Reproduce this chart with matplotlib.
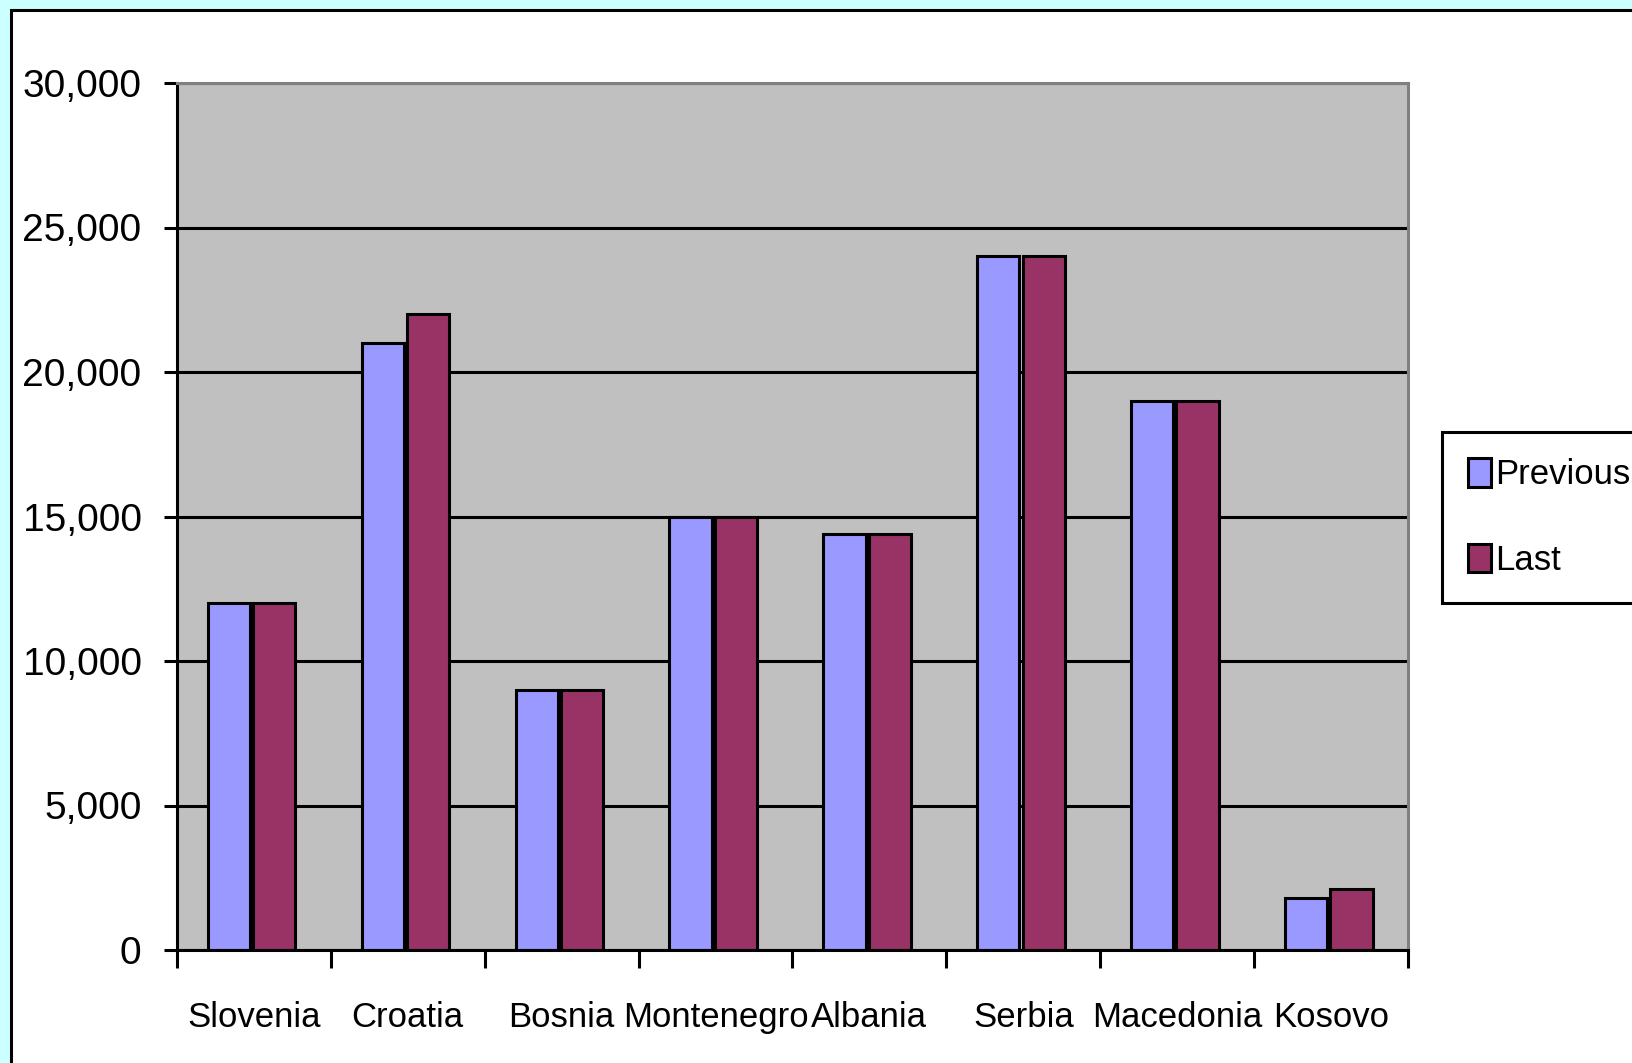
import matplotlib
matplotlib.use("Agg")
import matplotlib.pyplot as plt
import numpy as np
from matplotlib.patches import Rectangle
from matplotlib.ticker import FuncFormatter

countries = ["Slovenia", "Croatia", "Bosnia", "Montenegro", "Albania",
             "Serbia", "Macedonia", "Kosovo"]
previous = [12000, 21000, 9000, 15000, 14400, 24000, 19000, 1800]
last = [12000, 22000, 9000, 15000, 14400, 24000, 19000, 2100]
yticks = [0, 5000, 10000, 15000, 20000, 25000, 30000]

plt.rcParams['font.family'] = ['Liberation Sans', 'DejaVu Sans']
LW = 2.2

fig = plt.figure(figsize=(16.33, 10.63), dpi=100, facecolor='#CCFFFF')

# white chart area with black border (runs off right and bottom)
W, H = 1633, 1063
fig.patches.append(Rectangle((10.5 / W, -0.1), 1.2, 1 - 10.5 / H + 0.1,
                             transform=fig.transFigure, facecolor='white',
                             edgecolor='black', linewidth=LW, zorder=-5))

ax = fig.add_axes([177 / W, 1 - 950 / H, (1408 - 177) / W, (950 - 83) / H])
ax.set_facecolor('#C0C0C0')

x = np.arange(len(countries)) - 0.015
bw = 0.275
ax.bar(x - bw / 2 - 0.01, previous, bw, color='#9999FF', edgecolor='black',
       linewidth=LW, label='Previous')
ax.bar(x + bw / 2 + 0.01, last, bw, color='#993366', edgecolor='black',
       linewidth=LW, label='Last')

ax.set_xlim(-0.5, len(countries) - 0.5)
ax.set_ylim(0, 30000)
ax.set_axisbelow(True)
ax.yaxis.grid(True, color='black', linewidth=LW)

ax.set_yticks(yticks)
ax.yaxis.set_major_formatter(FuncFormatter(lambda v, p: f"{int(v):,}"))
ax.tick_params(axis='y', direction='out', length=9.5, width=LW, pad=16,
               labelsize=28)

ax.set_xticks(np.arange(-0.5, len(countries), 1))
ax.set_xticklabels([])
ax.set_xticks(np.arange(len(countries)), minor=True)
ax.set_xticklabels(countries, minor=True)
ax.tick_params(axis='x', which='major', direction='out', length=13, width=LW)
ax.tick_params(axis='x', which='minor', length=0, pad=37, labelsize=25)

for s in ['left', 'bottom']:
    ax.spines[s].set_linewidth(LW)
    ax.spines[s].set_color('black')
for s in ['top', 'right']:
    ax.spines[s].set_linewidth(LW)
    ax.spines[s].set_color('#808080')

leg = fig.legend(loc='upper left', bbox_to_anchor=(1442 / W, 1 - 432 / H),
                 fontsize=25, fancybox=False, framealpha=1, edgecolor='black',
                 handlelength=0.65, handleheight=0.9, handletextpad=0.12,
                 labelspacing=1.5, borderpad=0.75, borderaxespad=0)
leg.get_frame().set_linewidth(LW)

fig.savefig("out.png", dpi=100, facecolor=fig.get_facecolor())
